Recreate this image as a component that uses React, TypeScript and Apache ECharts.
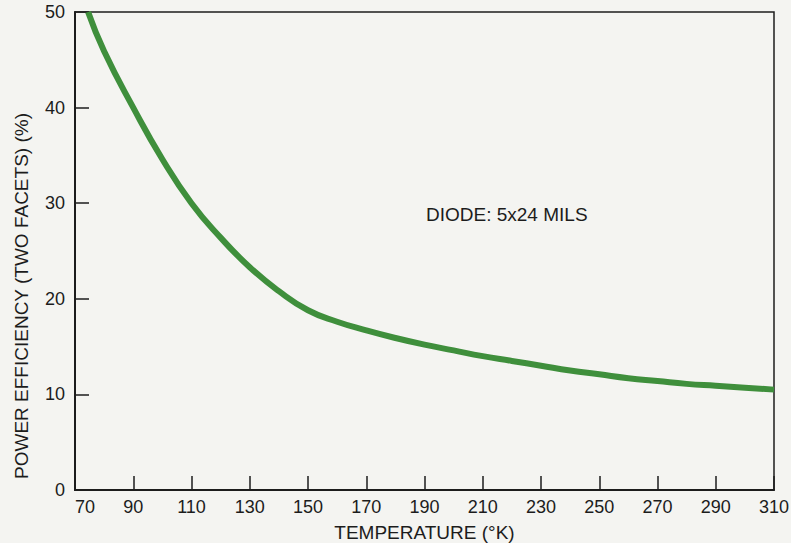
import React, { useEffect, useRef } from "react";
import * as echarts from "echarts";

const temperatures = [74.5, 80, 90, 100, 110, 120, 130, 140, 150, 160, 170, 180, 190, 200, 210, 220, 230, 240, 250, 260, 270, 280, 290, 300, 310];
const efficiency = [50, 45.9, 40, 34.6, 30, 26.4, 23.3, 20.8, 18.8, 17.6, 16.7, 15.9, 15.2, 14.6, 14.0, 13.5, 13.0, 12.5, 12.1, 11.7, 11.4, 11.1, 10.9, 10.7, 10.5];
const xTickValues = [70, 90, 110, 130, 150, 170, 190, 210, 230, 250, 270, 290, 310];
const yTickValues = [0, 10, 20, 30, 40, 50];
const xTitle = "TEMPERATURE (°K)";
const yTitle = "POWER EFFICIENCY (TWO FACETS) (%)";
const note = "DIODE: 5x24 MILS";

const INK = "#1c1c1c";
const FONT = "'Liberation Sans', Arial, sans-serif";

export default function App() {
  const ref = useRef<HTMLDivElement>(null);
  useEffect(() => {
    if (!ref.current) return;
    const chart = echarts.init(ref.current, null, { renderer: "svg" });
    const xMin = xTickValues[0];
    const xMax = xTickValues[xTickValues.length - 1];
    const yMin = yTickValues[0];
    const yMax = yTickValues[yTickValues.length - 1];
    chart.setOption({
      animation: false,
      backgroundColor: "#f4f4f1",
      grid: {
        left: 75,
        right: 17,
        top: 12,
        bottom: 53,
        show: true,
        borderColor: INK,
        borderWidth: 1.5,
        containLabel: false,
        outerBoundsMode: "none",
      },
      xAxis: {
        type: "value",
        min: xMin,
        max: xMax,
        interval: xTickValues[1] - xTickValues[0],
        name: xTitle,
        nameLocation: "middle",
        nameGap: 33,
        nameTextStyle: { color: INK, fontSize: 19, fontFamily: FONT },
        axisLine: { show: true, lineStyle: { color: INK, width: 2 } },
        axisTick: { show: true, inside: true, length: 14, lineStyle: { color: INK, width: 1.5 } },
        axisLabel: { color: INK, fontSize: 18, fontFamily: FONT, margin: 8, alignMinLabel: "left" },
        splitLine: { show: false },
      },
      yAxis: {
        type: "value",
        min: yMin,
        max: yMax,
        interval: yTickValues[1] - yTickValues[0],
        axisLine: { show: true, lineStyle: { color: INK, width: 2 } },
        axisTick: { show: true, inside: true, length: 14, lineStyle: { color: INK, width: 1.5 } },
        axisLabel: { color: INK, fontSize: 18, fontFamily: FONT, margin: 10 },
        splitLine: { show: false },
      },
      graphic: [
        {
          type: "text",
          x: 21,
          y: 296,
          rotation: Math.PI / 2,
          style: {
            text: yTitle,
            fill: INK,
            font: `19px ${FONT}`,
            textAlign: "center",
            textVerticalAlign: "middle",
          },
        },
        {
          type: "text",
          x: 426,
          y: 214,
          style: {
            text: note,
            fill: INK,
            font: `19px ${FONT}`,
            textAlign: "left",
            textVerticalAlign: "middle",
          },
        },
      ],
      series: [
        {
          type: "line",
          data: temperatures.map((t, i) => [t, efficiency[i]]),
          smooth: true,
          showSymbol: false,
          lineStyle: { color: "#3f8f3c", width: 6 },
        },
      ],
    });
    return () => chart.dispose();
  }, []);
  return (
    <div
      ref={ref}
      style={{ position: "fixed", left: 0, top: 0, width: 791, height: 543 }}
    />
  );
}
